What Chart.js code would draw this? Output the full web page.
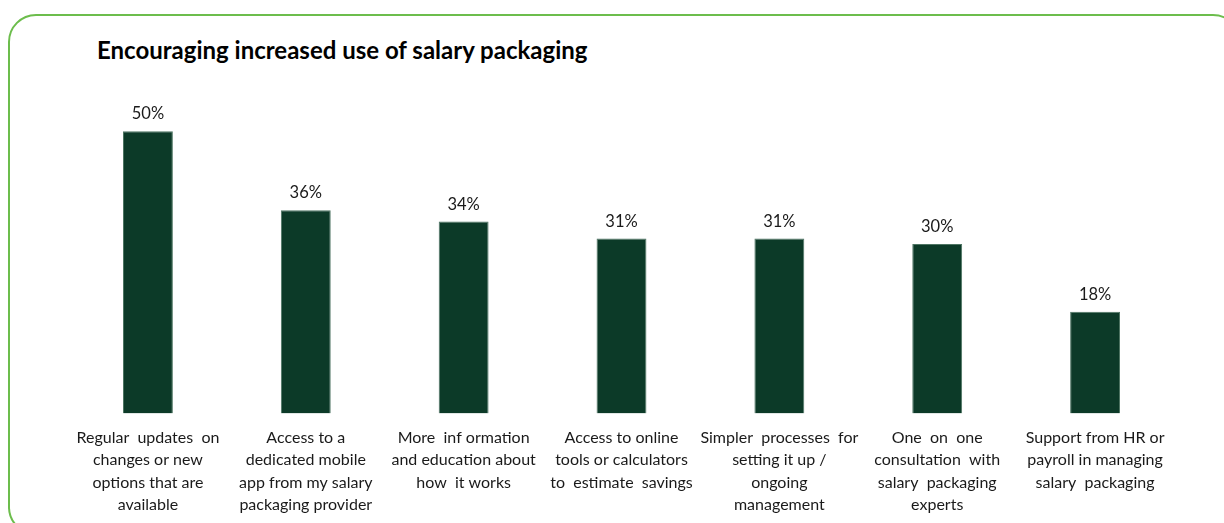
<!DOCTYPE html>
<html lang="en">
<head>
    <meta charset="UTF-8">
    <title>Encouraging increased use of salary packaging</title>
    <style>
        body {
            margin: 0;
            padding: 0;
            width: 1224px;
            height: 523px;
            overflow: hidden;
            background: #ffffff;
            position: relative;
            font-family: Lato, "Open Sans", sans-serif;
        }
        .frame {
            position: absolute;
            left: 8px;
            top: 14px;
            width: 1233px;
            height: 521px;
            border: 2.5px solid #6cbd4c;
            border-radius: 28px;
            box-sizing: border-box;
        }
        .title {
            position: absolute;
            left: 97px;
            top: 35px;
            font-size: 24px;
            font-weight: bold;
            color: #000;
        }
        .chart-wrap {
            position: absolute;
            left: 0;
            top: 0;
            width: 1224px;
            height: 523px;
        }
    </style>
</head>
<body>
    <div class="frame"></div>
    <div class="title">Encouraging increased use of salary packaging</div>
    <div class="chart-wrap">
        <canvas id="chart" width="1224" height="523"></canvas>
    </div>
    <script src="https://cdn.jsdelivr.net/npm/chart.js"></script>
    <script>
        const categories = [
            ['Regular  updates  on', 'changes or new', 'options that are', 'available'],
            ['Access to a', 'dedicated mobile', 'app from my salary', 'packaging provider'],
            ['More  inf ormation', 'and education about', 'how  it works'],
            ['Access to online', 'tools or calculators', 'to  estimate  savings'],
            ['Simpler  processes  for', 'setting it up /', 'ongoing', 'management'],
            ['One  on  one', 'consultation  with', 'salary  packaging', 'experts'],
            ['Support from HR or', 'payroll in managing', 'salary  packaging']
        ];
        const percentages = [50, 36, 34, 31, 31, 30, 18];

        // percentage labels above each bar
        const valueLabels = {
            id: 'valueLabels',
            afterDatasetsDraw(chart) {
                const ctx = chart.ctx;
                const meta = chart.getDatasetMeta(0);
                ctx.save();
                ctx.font = '16.5px Lato, "Open Sans", sans-serif';
                ctx.fillStyle = '#1a1a1a';
                ctx.textAlign = 'center';
                ctx.textBaseline = 'bottom';
                meta.data.forEach((bar, i) => {
                    ctx.fillText(percentages[i] + '%', bar.x, bar.y - 9);
                });
                ctx.restore();
            }
        };

        new Chart(document.getElementById('chart'), {
            type: 'bar',
            data: {
                labels: categories,
                datasets: [{
                    data: percentages,
                    backgroundColor: '#0c3a28',
                    borderColor: '#4e7563',
                    borderWidth: 1,
                    barPercentage: 0.316,
                    categoryPercentage: 1
                }]
            },
            options: {
                responsive: false,
                animation: false,
                layout: {
                    padding: { left: 69, right: 50, top: 103, bottom: -6 }
                },
                plugins: {
                    legend: { display: false },
                    tooltip: { enabled: false }
                },
                scales: {
                    x: {
                        grid: { display: false, drawTicks: false },
                        border: { display: false },
                        ticks: {
                            color: '#1a1a1a',
                            font: { family: 'Lato, "Open Sans", sans-serif', size: 16, lineHeight: 1.4 },
                            padding: 13,
                            maxRotation: 0,
                            autoSkip: false
                        }
                    },
                    y: {
                        display: false,
                        min: 0,
                        max: 55
                    }
                }
            },
            plugins: [valueLabels]
        });
    </script>
</body>
</html>
